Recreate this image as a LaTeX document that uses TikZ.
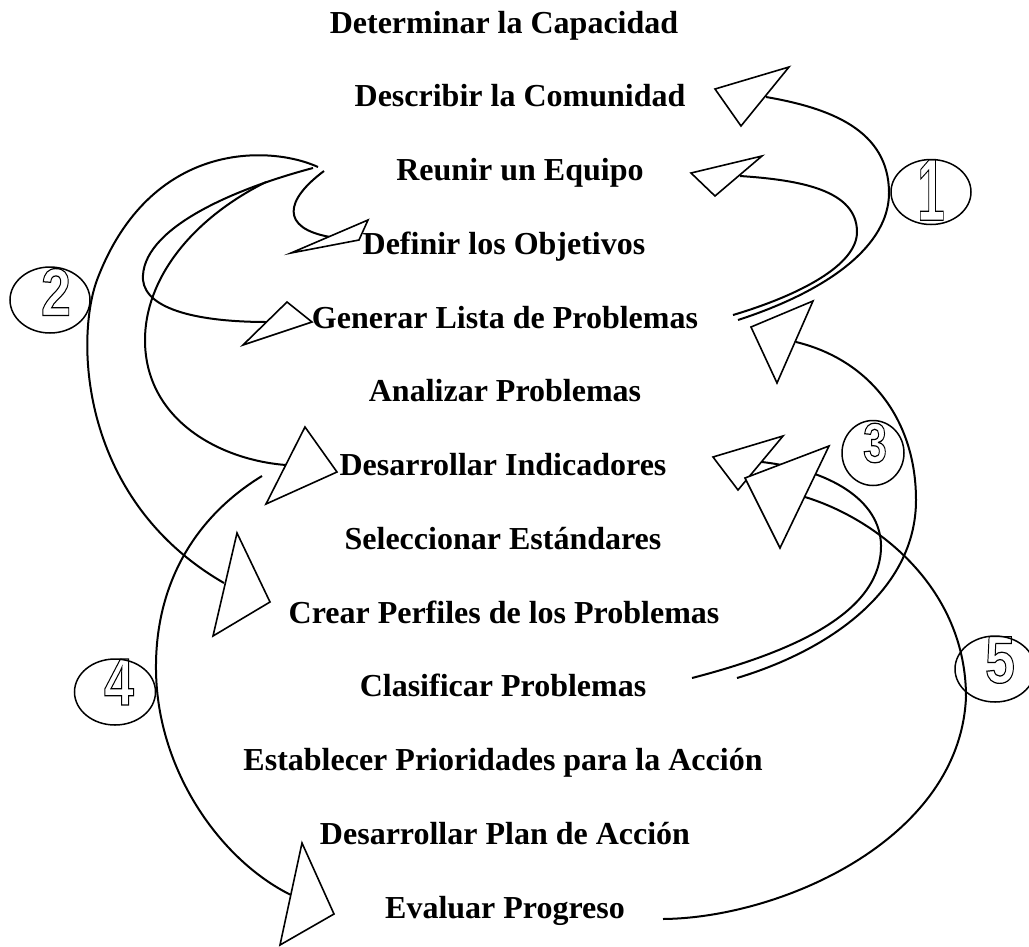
\documentclass[tikz,border=0pt]{standalone}
\usepackage{fontspec}
\setmainfont{Liberation Serif}
\newfontfamily\digitfont{Liberation Sans}
\usetikzlibrary{shapes.geometric}
\newcommand{\outl}[1]{\special{pdf:literal direct 1 Tr 1.2 w}#1\special{pdf:literal direct 0 Tr}}
\begin{document}
\begin{tikzpicture}[x=1pt,y=-1pt,
  lbl/.style={anchor=base, inner sep=0pt, font=\fontsize{32}{38}\selectfont\bfseries},
  crv/.style={line width=2pt},
  tri/.style={draw, fill=white, line width=1.6pt, line join=miter},
  badge/.style={draw, ellipse, line width=1.5pt, inner sep=0pt},
  digit/.style={inner sep=0pt, xscale=0.8, font=\fontsize{67}{67}\selectfont\digitfont\bfseries},
]
\useasboundingbox (0,0) rectangle (1029,946);

% ---- named endpoints
\coordinate (s1o) at (738,320);  \coordinate (e1o) at (766,97);
\coordinate (s1i) at (733,315);  \coordinate (e1i) at (740,176);
\coordinate (sa) at (318,167);   \coordinate (ea) at (224,583);
\coordinate (sd) at (324,171);   \coordinate (ed) at (330,237);
\coordinate (sb) at (313,168);   \coordinate (eb) at (267,322);
\coordinate (sc) at (266,182);   \coordinate (ec) at (286,465);
\coordinate (s3o) at (737,678);  \coordinate (e3o) at (796,342);
\coordinate (s3i) at (692,678);  \coordinate (e3i) at (762,462);
\coordinate (s5) at (663,919);   \coordinate (e5) at (805,497);
\coordinate (s4) at (262,476);   \coordinate (e4) at (291,895);

% ---- curves
\draw[crv] (s1o) .. controls (830,290) and (889,245) .. (889,193)
                 .. controls (889,130) and (830,108) .. (e1o);
\draw[crv] (s1i) .. controls (800,295) and (857,265) .. (857,232)
                 .. controls (857,190) and (800,180) .. (e1i);
\draw[crv] (sa) .. controls (270,145) and (150,140) .. (97,280)
                .. controls (75,340) and (80,500) .. (ea);
\draw[crv] (sd) .. controls (285,200) and (280,228) .. (ed);
\draw[crv] (sb) .. controls (230,190) and (140,230) .. (143,280)
                .. controls (146,310) and (200,322) .. (eb);
\draw[crv] (sc) .. controls (190,220) and (145,280) .. (145,340)
                .. controls (145,420) and (220,460) .. (ec);
\draw[crv] (s3o) .. controls (830,650) and (916,590) .. (916,500)
                 .. controls (916,420) and (870,360) .. (e3o);
\draw[crv] (s3i) .. controls (800,650) and (882,610) .. (881,545)
                 .. controls (880,500) and (830,470) .. (e3i);
\draw[crv] (s5) .. controls (780,918) and (960,840) .. (966,697)
                .. controls (966,590) and (880,520) .. (e5);
\draw[crv] (s4) .. controls (190,520) and (155,590) .. (156,670)
                .. controls (157,770) and (220,860) .. (e4);

% ---- arrowheads
\draw[tri] (715,89) -- (789,67) -- (741,126) -- cycle;
\draw[tri] (691,173) -- (762,156) -- (715,196) -- cycle;
\draw[tri] (291,253) -- (368,220) -- (359,240) -- cycle;
\draw[tri] (243,345) -- (287,302) -- (312,322) -- cycle;
\draw[tri] (305,427) -- (337,472) -- (266,504) -- cycle;
\draw[tri] (237,533) -- (270,602) -- (213,636) -- cycle;
\draw[tri] (751,327) -- (813,301) -- (777,383) -- cycle;
\draw[tri] (713,457) -- (783,436) -- (738,490) -- cycle;
\draw[tri] (745,478) -- (829,446) -- (780,548) -- cycle;
\draw[tri] (302,843) -- (334,914) -- (280,945) -- cycle;

% ---- numbered badges
\node[badge, minimum width=80pt, minimum height=65pt] (c1) at (931,192) {};
\node[badge, minimum width=80pt, minimum height=66pt] (c2) at (50,300) {};
\node[badge, minimum width=62pt, minimum height=65pt] (c3) at (873,453) {};
\node[badge, minimum width=81pt, minimum height=66pt] (c4) at (115,692) {};
\node[badge, minimum width=80pt, minimum height=66pt] (c5) at (995,669) {};
\node[digit, xscale=0.7, font=\fontsize{88}{88}\selectfont\digitfont\bfseries] (d1) at (931,190) {\outl{1}};
\node[digit] (d2) at (56,292) {\outl{2}};
\node[digit, xscale=0.95, font=\fontsize{56}{56}\selectfont\digitfont\bfseries] (d3) at (875,443) {\outl{3}};
\node[digit] (d4) at (119,682) {\outl{4}};
\node[digit] (d5) at (1000,660) {\outl{5}};

% ---- step labels
\node[lbl] (t1) at (504,33) {Determinar la Capacidad};
\node[lbl] (t2) at (520,106.75) {Describir la Comunidad};
\node[lbl] (t3) at (520,180.5) {Reunir un Equipo};
\node[lbl] (t4) at (504,254.25) {Definir los Objetivos};
\node[lbl] (t5) at (505,328) {Generar Lista de Problemas};
\node[lbl] (t6) at (505,401.75) {Analizar Problemas};
\node[lbl] (t7) at (503,475.5) {Desarrollar Indicadores};
\node[lbl] (t8) at (503,549.25) {Seleccionar Estándares};
\node[lbl] (t9) at (504,623) {Crear Perfiles de los Problemas};
\node[lbl] (t10) at (503,696.75) {Clasificar Problemas};
\node[lbl] (t11) at (503,770.5) {Establecer Prioridades para la Acción};
\node[lbl] (t12) at (505,844.25) {Desarrollar Plan de Acción};
\node[lbl] (t13) at (505,918) {Evaluar Progreso};
\end{tikzpicture}
\end{document}
